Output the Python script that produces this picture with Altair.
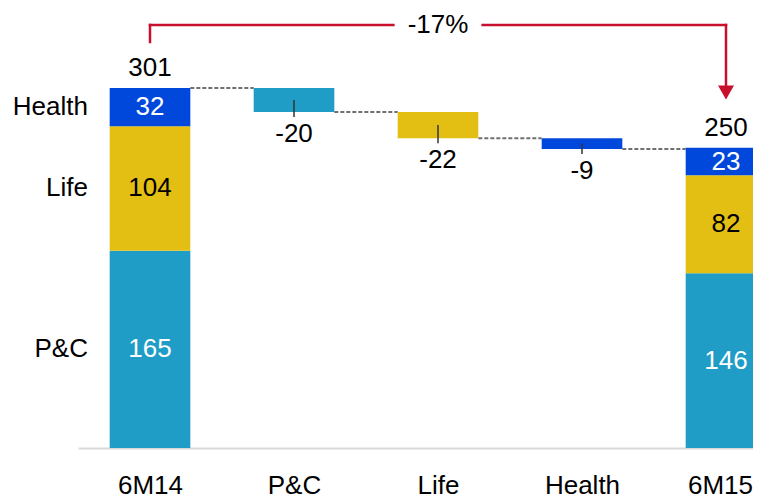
import json
import altair as alt
import pandas as pd

# ---- data ----
categories = ["6M14", "P&C", "Life", "Health", "6M15"]
segments = ["P&C", "Life", "Health"]
values_6m14 = [165, 104, 32]
values_6m15 = [146, 82, 23]
deltas = [-20, -22, -9]
totals = [301, 250]
seg_colors = ["#1F9DC6", "#E3BF14", "#0047DC"]
seg_text_colors = ["white", "black", "white"]

HALF = 0.28
FONT = "Liberation Sans"
FS = 26
RED = "#C8102E"

# stacked start / end bars
rows = []
for idx, vals in [(0, values_6m14), (4, values_6m15)]:
    base = 0
    for s, v, tc in zip(segments, vals, seg_text_colors):
        rows.append(dict(i=idx, xa=idx - HALF, xb=idx + HALF, seg=s, y0=base,
                         y1=base + v, mid=base + v / 2, label=str(v), tc=tc))
        base += v
stack_df = pd.DataFrame(rows)

# floating delta bars and connectors
level = totals[0]
drows = []
conn = [dict(xa=0 + HALF, xb=1 - HALF, y=level)]
for k, (s, d) in enumerate(zip(segments, deltas)):
    idx = k + 1
    drows.append(dict(i=idx, xa=idx - HALF, xb=idx + HALF, seg=s, y0=level,
                      y1=level + d, mid=level + d / 2, label=str(d)))
    level += d
    conn.append(dict(xa=idx + HALF, xb=idx + 1 - HALF, y=level))
delta_df = pd.DataFrame(drows)
conn_df = pd.DataFrame(conn)

total_df = pd.DataFrame(dict(i=[0, 4], top=[sum(values_6m14), sum(values_6m15)],
                             label=[str(t) for t in totals]))
left_df = stack_df[stack_df["i"] == 0][["i", "seg", "mid"]]

pct = round((totals[1] - totals[0]) / totals[0] * 100)
mid_i = (0 + 4) / 2
arrow_h = pd.DataFrame(dict(xa=[0, mid_i + 0.31], xb=[mid_i - 0.31, 4]))
arrow_l = pd.DataFrame(dict(x=[0]))
arrow_r = pd.DataFrame(dict(x=[4]))
pct_df = pd.DataFrame(dict(x=[mid_i], label=[f"{pct}%"]))

# ---- scales / axis ----
PLOT_W = 675
xs = alt.Scale(domain=[-0.5, PLOT_W / 144 - 0.5], nice=False, zero=False)
ys = alt.Scale(domain=[0, 359.5], nice=False, zero=False)
color = alt.Color("seg:N", scale=alt.Scale(domain=segments, range=seg_colors), legend=None)

label_expr = json.dumps(categories) + "[datum.value]"
last = len(categories) - 1
x_axis = alt.Axis(values=list(range(len(categories))), labelExpr=label_expr, ticks=False,
                  grid=False, domainColor="#D9D9D9", domainWidth=2, labelFontSize=FS,
                  labelColor="black", labelFont=FONT, labelPadding=24, title=None,
                  labelOverlap=False,
                  labelOffset={"expr": f"datum.value == {last} ? -6 : 0"})


def X(field):
    return alt.X(field, scale=xs, axis=x_axis)


def Y(field):
    return alt.Y(field, scale=ys, axis=None)


stack_bars = alt.Chart(stack_df).mark_bar(clip=True).encode(
    x=X("xa:Q"), x2="xb:Q", y=Y("y0:Q"), y2="y1:Q", color=color)

stack_text = alt.Chart(stack_df).mark_text(fontSize=FS, font=FONT, baseline="middle").encode(
    x=X("i:Q"), y=Y("mid:Q"), text="label:N", color=alt.Color("tc:N", scale=None))

delta_bars = alt.Chart(delta_df).mark_bar().encode(
    x=X("xa:Q"), x2="xb:Q", y=Y("y0:Q"), y2="y1:Q", color=color)

delta_ticks = alt.Chart(delta_df).mark_rule(color="#333333", strokeWidth=1.5, y2Offset=5).encode(
    x=X("i:Q"), y=Y("mid:Q"), y2="y1:Q")

delta_text = alt.Chart(delta_df).mark_text(fontSize=FS, font=FONT, dy=22, baseline="middle",
                                           color="black").encode(
    x=X("i:Q"), y=Y("y1:Q"), text="label:N")

connectors = alt.Chart(conn_df).mark_rule(strokeDash=[4, 2], color="#707070", strokeWidth=2).encode(
    x=X("xa:Q"), x2="xb:Q", y=Y("y:Q"))

total_text = alt.Chart(total_df).mark_text(fontSize=FS, font=FONT, dy=-20, baseline="middle",
                                           color="black").encode(
    x=X("i:Q"), y=Y("top:Q"), text="label:N")

left_text = alt.Chart(left_df).mark_text(fontSize=FS, font=FONT, dx=-62, align="right",
                                         baseline="middle", color="black").encode(
    x=X("i:Q"), y=Y("mid:Q"), text="seg:N")

arrow_horiz = alt.Chart(arrow_h).mark_rule(color=RED, strokeWidth=2.5, strokeCap="square").encode(
    x=X("xa:Q"), x2="xb:Q", y=alt.value(7))
arrow_left = alt.Chart(arrow_l).mark_rule(color=RED, strokeWidth=2.5, strokeCap="square").encode(
    x=X("x:Q"), y=alt.value(7), y2=alt.value(24))
arrow_right = alt.Chart(arrow_r).mark_rule(color=RED, strokeWidth=2.5, strokeCap="square").encode(
    x=X("x:Q"), y=alt.value(7), y2=alt.value(68))
arrow_head = alt.Chart(arrow_r).mark_point(shape="triangle-down", size=256, filled=True,
                                           color=RED, opacity=1).encode(
    x=X("x:Q"), y=alt.value(74.5))
pct_text = alt.Chart(pct_df).mark_text(fontSize=FS, font=FONT, baseline="middle",
                                       color="black").encode(
    x=X("x:Q"), y=alt.value(7), text="label:N")

chart = alt.layer(
    connectors, stack_bars, delta_bars, delta_ticks, stack_text, delta_text, total_text,
    left_text, arrow_horiz, arrow_left, arrow_right, arrow_head, pct_text
).properties(
    width=PLOT_W, height=430,
    padding={"left": 70, "top": 10, "right": 0, "bottom": 51},
    autosize="none",
).configure(font=FONT).configure_view(stroke=None)

chart.save("out.html", embed_options={"renderer": "svg", "actions": False})
